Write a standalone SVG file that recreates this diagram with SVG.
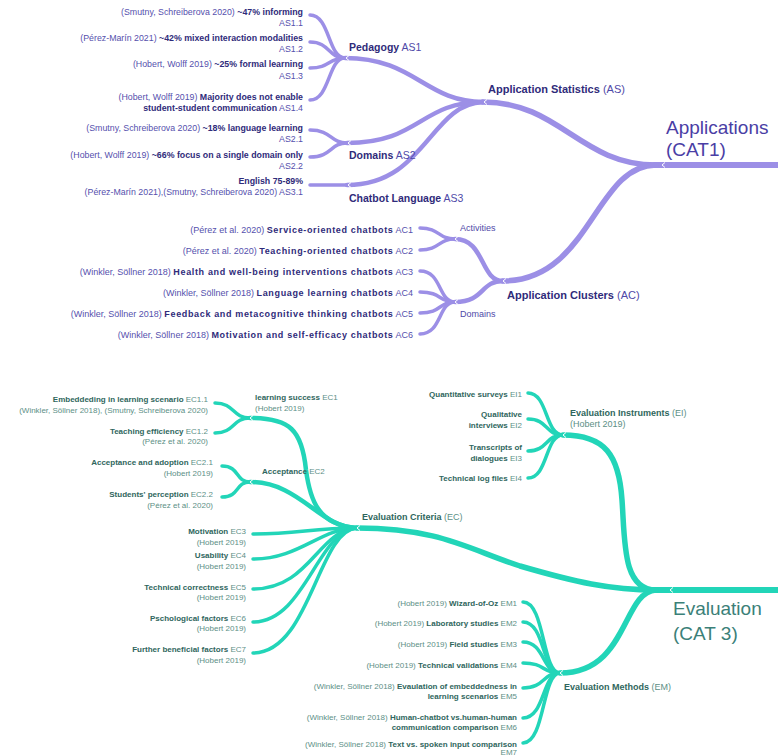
<svg xmlns="http://www.w3.org/2000/svg" xmlns:xlink="http://www.w3.org/1999/xlink" width="778" height="756" viewBox="0 0 778 756">
<defs>
<style>
text{font-family:"Liberation Sans",Arial,sans-serif}
.p{stroke:#9c8fe6;fill:none;stroke-linecap:round}
.t{stroke:#22d5b8;fill:none;stroke-linecap:round}
.w6{stroke-width:6}.w5{stroke-width:5.5}.w4{stroke-width:4.5}.w3{stroke-width:3.5}
.chev{stroke:#fff;stroke-width:1;fill:none}
.pl{font-size:8.8px;fill:#5550ad}
.pl .b{font-weight:bold;fill:#2f2b7a}
.pa{font-size:9px;fill:#5550ad}
.pa .b{font-weight:bold;fill:#2f2b7a;letter-spacing:0.65px}
.plab{font-size:10.5px;fill:#4f49a8}
.plab .b{font-weight:bold;fill:#2f2b7a}
.plab2{font-size:11px;fill:#4f49a8}
.plab2 .b{font-weight:bold;fill:#2f2b7a}
.psm{font-size:9px;fill:#4f49a8}
.big1{font-size:19px;fill:#4a3ea5}
.tl{font-size:8px;fill:#5c8f86}
.tl .b{font-weight:bold;fill:#2f665d}
.tlab{font-size:9px;fill:#5c8f86}
.tlab .b{font-weight:bold;fill:#2f665d}
.big3{font-size:19px;fill:#3b8078}
</style>
<path id="ch" d="M3,-2.5 L0,0 L3,2.5"/>
</defs>

<g id="connectors">
<path class="p w6" d="M778,165 H655"/>
<path class="p w5" d="M656,165 C580,165 560,102 483,102"/>
<path class="p w5" d="M656,165 C595,165 590,281 503,281"/>
<path class="p w4" d="M483,102 C425,102 415,58 345,58"/>
<path class="p w4" d="M483,102 C420,102 420,143 347,143"/>
<path class="p w4" d="M483,102 C430,104 425,185 347,185"/>
<path class="p w3" d="M345,58 C328,58 330,15 310,15"/>
<path class="p w3" d="M345,58 C328,58 330,42 310,42"/>
<path class="p w3" d="M345,58 C328,58 330,68 310,68"/>
<path class="p w3" d="M345,58 C328,58 330,100 310,100"/>
<path class="p w3" d="M347,143 C330,143 332,130 310,130"/>
<path class="p w3" d="M347,143 C330,143 332,157 310,157"/>
<path class="p w3" d="M347,185 H310"/>
<path class="p w4" d="M503,281 C480,281 485,239 455,239"/>
<path class="p w4" d="M503,281 C480,281 485,302 455,302"/>
<path class="p w3" d="M455,239 C438,239 440,228 420,228"/>
<path class="p w3" d="M455,239 C438,239 440,250 420,250"/>
<path class="p w3" d="M455,302 C438,302 442,271 420,271"/>
<path class="p w3" d="M455,302 C438,302 442,292 420,292"/>
<path class="p w3" d="M455,302 C438,302 442,313 420,313"/>
<path class="p w3" d="M455,302 C438,302 442,334 420,334"/>

<path class="t w6" d="M778,590 H655"/>
<path class="t w5" d="M656,590 C622,590 625,540 622,500 C619,455 605,435 563,435"/>
<path class="t w5" d="M656,590 C610,590 575,582 520,566 C470,550 440,528 357,528"/>
<path class="t w5" d="M656,590 C622,592 628,673 560,673"/>
<path class="t w3" d="M563,435 C545,435 548,393 528,393"/>
<path class="t w3" d="M563,435 C545,435 548,419 528,419"/>
<path class="t w3" d="M563,435 C545,435 548,451 528,451"/>
<path class="t w3" d="M563,435 C545,435 548,478 528,478"/>
<path class="t w4" d="M357,528 C318,525 310,500 306,470 C302,430 290,418 250,418"/>
<path class="t w4" d="M357,528 C320,528 300,482 250,482"/>
<path class="t w3" d="M357,528 C310,528 300,534 253,534"/>
<path class="t w3" d="M357,528 C320,528 300,559 253,559"/>
<path class="t w3" d="M357,528 C318,530 310,589 253,589"/>
<path class="t w3" d="M357,528 C318,530 305,622 253,622"/>
<path class="t w3" d="M357,528 C318,530 310,653 253,653"/>
<path class="t w3" d="M250,418 C232,418 235,403 215,403"/>
<path class="t w3" d="M250,418 C232,418 235,433 215,433"/>
<path class="t w3" d="M250,482 C235,482 240,466 222,466"/>
<path class="t w3" d="M250,482 C235,482 240,497 222,497"/>
<path class="t w3" d="M560,673 C542,673 545,602 523,602"/>
<path class="t w3" d="M560,673 C542,673 545,622 523,622"/>
<path class="t w3" d="M560,673 C542,673 545,642 523,642"/>
<path class="t w3" d="M560,673 C542,673 545,663 523,663"/>
<path class="t w3" d="M560,673 C542,673 545,688 523,688"/>
<path class="t w3" d="M560,673 C542,673 545,718 523,718"/>
<path class="t w3" d="M560,673 C542,673 545,743 523,743"/>

<g class="chev">
<use xlink:href="#ch" x="662" y="165"/>
<use xlink:href="#ch" x="484" y="102"/>
<use xlink:href="#ch" x="503" y="281"/>
<use xlink:href="#ch" x="346" y="58"/>
<use xlink:href="#ch" x="348" y="143"/>
<use xlink:href="#ch" x="348" y="185"/>
<use xlink:href="#ch" x="455" y="239"/>
<use xlink:href="#ch" x="455" y="302"/>
<use xlink:href="#ch" x="670" y="590"/>
<use xlink:href="#ch" x="563" y="435"/>
<use xlink:href="#ch" x="357" y="528"/>
<use xlink:href="#ch" x="560" y="673"/>
<use xlink:href="#ch" x="250" y="418"/>
<use xlink:href="#ch" x="250" y="482"/>
</g>
</g>

<g id="cat1"><text class="big1" x="666" y="134">Applications</text><text class="big1" x="666" y="156">(CAT1)</text></g>
<g id="AS"><text class="plab2" x="488" y="93"><tspan class="b">Application Statistics</tspan> (AS)</text></g>
<g id="AS1"><text class="plab" x="349" y="51"><tspan class="b">Pedagogy</tspan> AS1</text></g>
<g id="AS2"><text class="plab" x="349" y="159"><tspan class="b">Domains</tspan> AS2</text></g>
<g id="AS3"><text class="plab" x="349" y="202"><tspan class="b">Chatbot Language</tspan> AS3</text></g>

<g id="AS1.1" text-anchor="end"><text class="pl" x="303" y="15">(Smutny, Schreiberova 2020) <tspan class="b">~47% informing</tspan></text><text class="pl" x="303" y="26">AS1.1</text></g>
<g id="AS1.2" text-anchor="end"><text class="pl" x="303" y="41">(Pérez-Marín 2021) <tspan class="b">~42% mixed interaction modalities</tspan></text><text class="pl" x="303" y="52">AS1.2</text></g>
<g id="AS1.3" text-anchor="end"><text class="pl" x="303" y="67">(Hobert, Wolff 2019) <tspan class="b">~25% formal learning</tspan></text><text class="pl" x="303" y="78.5">AS1.3</text></g>
<g id="AS1.4" text-anchor="end"><text class="pl" x="303" y="100">(Hobert, Wolff 2019) <tspan class="b">Majority does not enable</tspan></text><text class="pl" x="303" y="111"><tspan class="b">student-student communication</tspan> AS1.4</text></g>
<g id="AS2.1" text-anchor="end"><text class="pl" x="303" y="131">(Smutny, Schreiberova 2020) <tspan class="b">~18% language learning</tspan></text><text class="pl" x="303" y="142">AS2.1</text></g>
<g id="AS2.2" text-anchor="end"><text class="pl" x="303" y="157.5">(Hobert, Wolff 2019) <tspan class="b">~66% focus on a single domain only</tspan></text><text class="pl" x="303" y="168.5">AS2.2</text></g>
<g id="AS3.1" text-anchor="end"><text class="pl" x="303" y="184"><tspan class="b">English 75-89%</tspan></text><text class="pl" x="303" y="195">(Pérez-Marín 2021),(Smutny, Schreiberova 2020) AS3.1</text></g>

<g id="AC"><text class="plab2" x="507" y="299"><tspan class="b">Application Clusters</tspan> (AC)</text></g>
<g id="activities"><text class="psm" x="460" y="231">Activities</text></g>
<g id="domainsAC"><text class="psm" x="460" y="317">Domains</text></g>
<g id="AC1" text-anchor="end"><text class="pa" x="413" y="233">(Pérez et al. 2020) <tspan class="b">Service-oriented chatbots</tspan> AC1</text></g>
<g id="AC2" text-anchor="end"><text class="pa" x="413" y="253.5">(Pérez et al. 2020) <tspan class="b">Teaching-oriented chatbots</tspan> AC2</text></g>
<g id="AC3" text-anchor="end"><text class="pa" x="413" y="274.5">(Winkler, Söllner 2018) <tspan class="b">Health and well-being interventions chatbots</tspan> AC3</text></g>
<g id="AC4" text-anchor="end"><text class="pa" x="413" y="296">(Winkler, Söllner 2018) <tspan class="b">Language learning chatbots</tspan> AC4</text></g>
<g id="AC5" text-anchor="end"><text class="pa" x="413" y="317">(Winkler, Söllner 2018) <tspan class="b">Feedback and metacognitive thinking chatbots</tspan> AC5</text></g>
<g id="AC6" text-anchor="end"><text class="pa" x="413" y="338">(Winkler, Söllner 2018) <tspan class="b">Motivation and self-efficacy chatbots</tspan> AC6</text></g>

<g id="cat3"><text class="big3" x="673" y="615">Evaluation</text><text class="big3" x="673" y="640">(CAT 3)</text></g>
<g id="EI"><text class="tlab" x="570" y="416"><tspan class="b">Evaluation Instruments</tspan> (EI)</text><text class="tlab" x="570" y="426.5">(Hobert 2019)</text></g>
<g id="EI1" text-anchor="end"><text class="tl" x="522" y="397"><tspan class="b">Quantitative surveys</tspan> EI1</text></g>
<g id="EI2" text-anchor="end"><text class="tl" x="522" y="417"><tspan class="b">Qualitative</tspan></text><text class="tl" x="522" y="428"><tspan class="b">interviews</tspan> EI2</text></g>
<g id="EI3" text-anchor="end"><text class="tl" x="522" y="450"><tspan class="b">Transcripts of</tspan></text><text class="tl" x="522" y="460.5"><tspan class="b">dialogues</tspan> EI3</text></g>
<g id="EI4" text-anchor="end"><text class="tl" x="522" y="481"><tspan class="b">Technical log files</tspan> EI4</text></g>

<g id="EC"><text class="tlab" x="362" y="520"><tspan class="b">Evaluation Criteria</tspan> (EC)</text></g>
<g id="EC1"><text class="tl" x="255" y="400"><tspan class="b">learning success</tspan> EC1</text><text class="tl" x="255" y="410.5">(Hobert 2019)</text></g>
<g id="EC2"><text class="tl" x="262" y="474" font-size="8.5"><tspan class="b">Acceptance</tspan> EC2</text></g>
<g id="EC1.1" text-anchor="end"><text class="tl" x="208" y="401.5"><tspan class="b">Embeddeding in learning scenario</tspan> EC1.1</text><text class="tl" x="208" y="412.5">(Winkler, Söllner 2018), (Smutny, Schreiberova 2020)</text></g>
<g id="EC1.2" text-anchor="end"><text class="tl" x="208" y="433.5"><tspan class="b">Teaching efficiency</tspan> EC1.2</text><text class="tl" x="208" y="444">(Pérez et al. 2020)</text></g>
<g id="EC2.1" text-anchor="end"><text class="tl" x="213" y="465"><tspan class="b">Acceptance and adoption</tspan> EC2.1</text><text class="tl" x="213" y="475.5">(Hobert 2019)</text></g>
<g id="EC2.2" text-anchor="end"><text class="tl" x="213" y="496.5"><tspan class="b">Students' perception</tspan> EC2.2</text><text class="tl" x="213" y="507.5">(Pérez et al. 2020)</text></g>
<g id="EC3" text-anchor="end"><text class="tl" x="246" y="533.5"><tspan class="b">Motivation</tspan> EC3</text><text class="tl" x="246" y="544.5">(Hobert 2019)</text></g>
<g id="EC4" text-anchor="end"><text class="tl" x="246" y="558"><tspan class="b">Usability</tspan> EC4</text><text class="tl" x="246" y="568.5">(Hobert 2019)</text></g>
<g id="EC5" text-anchor="end"><text class="tl" x="246" y="589.5"><tspan class="b">Technical correctness</tspan> EC5</text><text class="tl" x="246" y="599.5">(Hobert 2019)</text></g>
<g id="EC6" text-anchor="end"><text class="tl" x="246" y="620.5"><tspan class="b">Pschological factors</tspan> EC6</text><text class="tl" x="246" y="630.5">(Hobert 2019)</text></g>
<g id="EC7" text-anchor="end"><text class="tl" x="246" y="651.5"><tspan class="b">Further beneficial factors</tspan> EC7</text><text class="tl" x="246" y="662.5">(Hobert 2019)</text></g>

<g id="EM"><text class="tlab" x="564" y="689.5"><tspan class="b">Evaluation Methods</tspan> (EM)</text></g>
<g id="EM1" text-anchor="end"><text class="tl" x="517" y="605.5">(Hobert 2019) <tspan class="b">Wizard-of-Oz</tspan> EM1</text></g>
<g id="EM2" text-anchor="end"><text class="tl" x="517" y="626">(Hobert 2019) <tspan class="b">Laboratory studies</tspan> EM2</text></g>
<g id="EM3" text-anchor="end"><text class="tl" x="517" y="646.5">(Hobert 2019) <tspan class="b">Field studies</tspan> EM3</text></g>
<g id="EM4" text-anchor="end"><text class="tl" x="517" y="667.5">(Hobert 2019) <tspan class="b">Technical validations</tspan> EM4</text></g>
<g id="EM5" text-anchor="end"><text class="tl" x="517" y="688.5">(Winkler, Söllner 2018) <tspan class="b">Evaulation of embeddedness in</tspan></text><text class="tl" x="517" y="698.5"><tspan class="b">learning scenarios</tspan> EM5</text></g>
<g id="EM6" text-anchor="end"><text class="tl" x="517" y="720">(Winkler, Söllner 2018) <tspan class="b">Human-chatbot vs.human-human</tspan></text><text class="tl" x="517" y="730"><tspan class="b">communication comparison</tspan> EM6</text></g>
<g id="EM7" text-anchor="end"><text class="tl" x="517" y="746.5">(Winkler, Söllner 2018) <tspan class="b">Text vs. spoken input comparison</tspan></text><text class="tl" x="517" y="755">EM7</text></g>
</svg>
